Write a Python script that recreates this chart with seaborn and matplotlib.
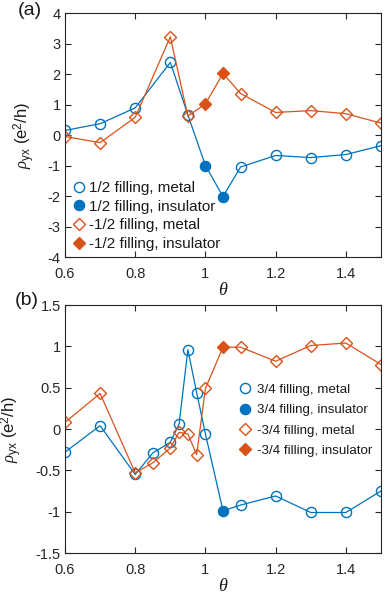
import numpy as np
import pandas as pd
import seaborn as sns
import matplotlib
matplotlib.use('Agg')
import matplotlib.pyplot as plt

# panel (a): +-1/2 filling
theta_a = [0.6, 0.7, 0.8, 0.9, 0.95, 1.0, 1.05, 1.1, 1.2, 1.3, 1.4, 1.5]
rho_p12 = [0.15, 0.37, 0.89, 2.38, 0.66, -1.0, -2.02, -1.05, -0.67, -0.74, -0.64, -0.35]
rho_m12 = [-0.05, -0.25, 0.58, 3.22, 0.62, 1.02, 2.02, 1.36, 0.74, 0.80, 0.70, 0.39]
ins_p12 = [False, False, False, False, False, True, True, False, False, False, False, False]
ins_m12 = [False, False, False, False, False, True, True, False, False, False, False, False]

# panel (b): +-3/4 filling
theta_b = [0.6, 0.7, 0.8, 0.85, 0.9, 0.925, 0.95, 0.975, 1.0, 1.05, 1.1, 1.2, 1.3, 1.4, 1.5]
rho_p34 = [-0.28, 0.04, -0.55, -0.29, -0.16, 0.06, 0.96, 0.44, -0.06, -0.99, -0.92, -0.81, -1.01, -1.01, -0.75]
rho_m34 = [0.08, 0.43, -0.53, -0.41, -0.23, -0.04, -0.06, -0.31, 0.49, 0.99, 0.99, 0.82, 1.01, 1.04, 0.78]
ins_p34 = [False] * 9 + [True] + [False] * 5
ins_m34 = [False] * 9 + [True] + [False] * 5

blue = '#0072BD'
orange = '#D95319'

sns.set_theme(style='ticks')
plt.rcParams['font.family'] = ['Liberation Sans', 'DejaVu Sans']
plt.rcParams['mathtext.fontset'] = 'custom'
plt.rcParams['mathtext.rm'] = 'Liberation Sans'
plt.rcParams['mathtext.it'] = 'Liberation Serif:italic'
plt.rcParams['axes.edgecolor'] = '#262626'
plt.rcParams['xtick.color'] = '#262626'
plt.rcParams['ytick.color'] = '#262626'
plt.rcParams['text.color'] = '#1a1a1a'
plt.rcParams['axes.labelcolor'] = '#1a1a1a'

fig = plt.figure(figsize=(3.88, 5.97), dpi=100)
ax_a = fig.add_axes([0.1675, 0.5695, 0.8144, 0.4087])
ax_b = fig.add_axes([0.1675, 0.0737, 0.8144, 0.4154])


def draw(ax, theta, rho, ins, color, marker, ms, name):
    df = pd.DataFrame({'theta': theta, 'rho': rho, 'ins': ins})
    sns.lineplot(data=df, x='theta', y='rho', color=color, lw=0.9, ax=ax)
    met = df[~df['ins']]
    sns.lineplot(data=met, x='theta', y='rho', ax=ax, linestyle='', marker=marker,
                 ms=ms, mfc='none', mec=color, mew=1.0, label=name + ', metal')
    ins_df = df[df['ins']]
    sns.lineplot(data=ins_df, x='theta', y='rho', ax=ax, linestyle='', marker=marker,
                 ms=ms, mfc=color, mec=color, mew=1.0, label=name + ', insulator')


draw(ax_a, theta_a, rho_p12, ins_p12, blue, 'o', 7.3, '1/2 filling')
draw(ax_a, theta_a, rho_m12, ins_m12, orange, 'D', 6.3, '-1/2 filling')
draw(ax_b, theta_b, rho_p34, ins_p34, blue, 'o', 7.3, '3/4 filling')
draw(ax_b, theta_b, rho_m34, ins_m34, orange, 'D', 6.3, '-3/4 filling')

for ax, ylim, yticks in [(ax_a, (-4, 4), np.arange(-4, 5, 1)),
                         (ax_b, (-1.5, 1.5), np.arange(-1.5, 1.51, 0.5))]:
    ax.set_xlim(0.6, 1.5)
    ax.set_ylim(*ylim)
    ax.set_xticks([0.6, 0.8, 1.0, 1.2, 1.4])
    ax.set_xticklabels(['0.6', '0.8', '1', '1.2', '1.4'])
    ax.set_yticks(yticks)
    ax.set_yticklabels(['%g' % t for t in yticks])
    ax.tick_params(direction='in', top=True, right=True, length=4, width=0.8,
                   labelsize=10.5)
    ax.tick_params(axis='x', pad=7)
    ax.tick_params(axis='y', pad=3)
    for s in ax.spines.values():
        s.set_linewidth(0.8)
    ax.set_xlabel(r'$\theta$', fontsize=13, labelpad=1)
    ax.set_ylabel(r'$\rho_{\mathrm{yx}}$ (e$^{2}$/h)', fontsize=12, labelpad=8)

ax_a.legend(loc='lower left', frameon=False, fontsize=11, handlelength=1.0,
            handletextpad=0.2, labelspacing=0.3, borderaxespad=0.1, borderpad=0.3)
ax_b.legend(loc='center right', bbox_to_anchor=(0.99, 0.535), frameon=False, fontsize=9.6,
            handlelength=1.0, handletextpad=0.4, labelspacing=0.6, borderaxespad=0.0)

fig.text(0.046, 0.997, '(a)', fontsize=14, va='top', ha='left')
fig.text(0.038, 0.511, '(b)', fontsize=14, va='top', ha='left')

fig.savefig('out.png', dpi=100)
